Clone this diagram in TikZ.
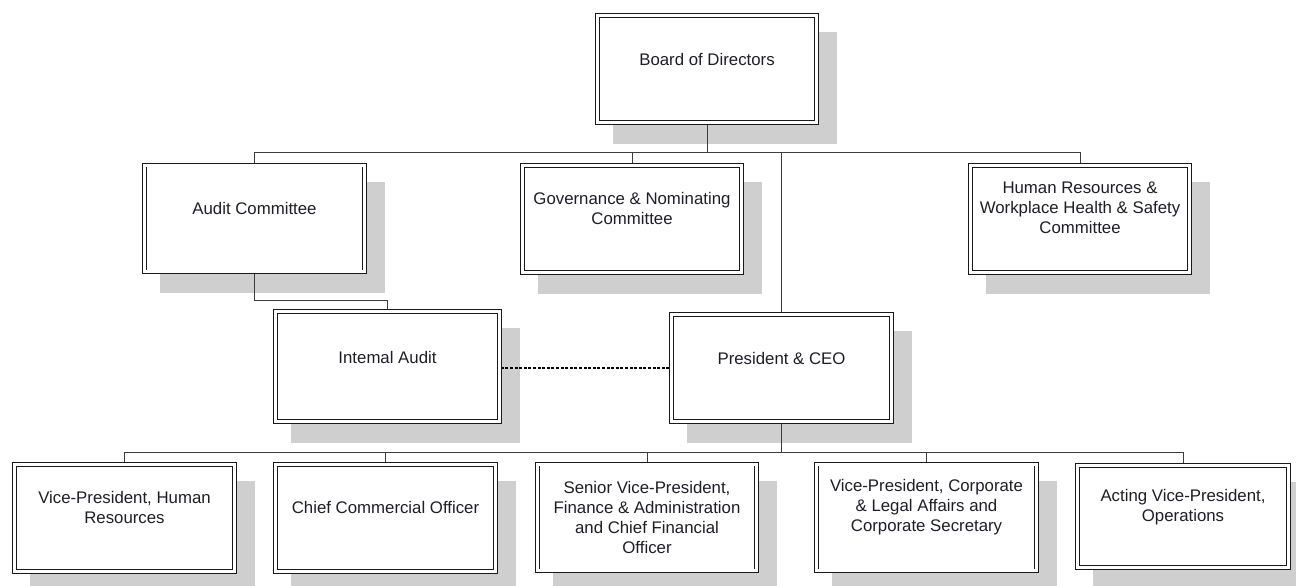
\documentclass[tikz,border=0pt]{standalone}
\usepackage{fontspec}
\setmainfont{Liberation Sans}
\usetikzlibrary{shadows}
\definecolor{shadowgray}{HTML}{CFCFCF}
\definecolor{linegray}{HTML}{3C3C3C}
\definecolor{textcol}{HTML}{1E1E28}
\begin{document}
\begin{tikzpicture}[x=1pt,y=-1pt,
  orgbox/.style={draw=black!90, line width=0.85pt, double=white, double distance=3pt,
    fill=white, outer sep=2.3pt, inner sep=0pt,
    minimum width=219.6pt, minimum height=106.8pt,
    general shadow={draw=shadowgray, fill=shadowgray, line width=4.6pt,
      shadow xshift=18pt, shadow yshift=-19pt}},
  boxtext/.style={font=\fontsize{16.8}{20}\selectfont, text=textcol, align=center,
    inner sep=0pt},
  link/.style={draw=linegray, line width=0.9pt},
  dotlink/.style={draw=black, line width=2.2pt, dash pattern=on 3pt off 1.6pt}
]
\useasboundingbox (0,0) rectangle (1296,586);
\fill[white] (0,0) rectangle (1296,586);

% board and committees
\node[orgbox, label={[boxtext, yshift=10pt]center:Board of Directors}] (board) at (707,69) {};
\node[orgbox, label={[boxtext, yshift=10.5pt]center:Audit Committee}] (audit) at (254.5,218.5) {};
\node[orgbox, label={[boxtext, yshift=11pt]center:{Governance \& Nominating\\Committee}}] (gov) at (632,219) {};
\node[orgbox, label={[boxtext, yshift=11pt]center:{Human Resources \&\\Workplace Health \& Safety\\Committee}}] (hrc) at (1080,219) {};

% audit and executive
\node[orgbox, minimum width=224.4pt, minimum height=110.4pt,
  label={[boxtext, yshift=9.5pt]center:Intemal Audit}] (ia) at (387.5,366.5) {};
\node[orgbox, label={[boxtext, yshift=10pt]center:President \& CEO}] (ceo) at (781.5,368) {};

% vice-presidents
\node[orgbox, label={[boxtext, yshift=11pt]center:{Vice-President, Human\\Resources}}] (vphr) at (124.5,518) {};
\node[orgbox, label={[boxtext, yshift=11pt]center:Chief Commercial Officer}] (cco) at (385.5,518) {};
\node[orgbox, label={[boxtext]center:{Senior Vice-President,\\Finance \& Administration\\and Chief Financial\\Officer}}] (svp) at (647,517.5) {};
\node[orgbox, label={[boxtext, yshift=10.5pt]center:{Vice-President, Corporate\\\& Legal Affairs and\\Corporate Secretary}}] (vpc) at (926.5,517.5) {};
\node[orgbox, minimum width=211.4pt, minimum height=102.4pt,
  label={[boxtext, yshift=9.5pt]center:{Acting Vice-President,\\Operations}}] (avp) at (1183,516.5) {};

% connector rails
\coordinate (topbus) at (707,152.5);
\coordinate (auditjoin) at (254,300);
\coordinate (botbus) at (781.5,452);

\draw[link] (board.south) -- (board.south |- topbus);
\draw[link] (audit.north) |- (hrc.north |- topbus) -- (hrc.north);
\draw[link] (gov.north) -- (gov.north |- topbus);
\draw[link] (ceo.north) -- (ceo.north |- topbus);

\draw[link] (audit.south) -- (audit.south |- auditjoin) -| (ia.north);
\draw[dotlink] (ceo.west) -- (ceo.west -| ia.east);

\draw[link] (ceo.south) -- (ceo.south |- botbus);
\draw[link] (vphr.north) |- (avp.north |- botbus) -- (avp.north);
\draw[link] (cco.north) -- (cco.north |- botbus);
\draw[link] (svp.north) -- (svp.north |- botbus);
\draw[link] (vpc.north) -- (vpc.north |- botbus);
\end{tikzpicture}
\end{document}
